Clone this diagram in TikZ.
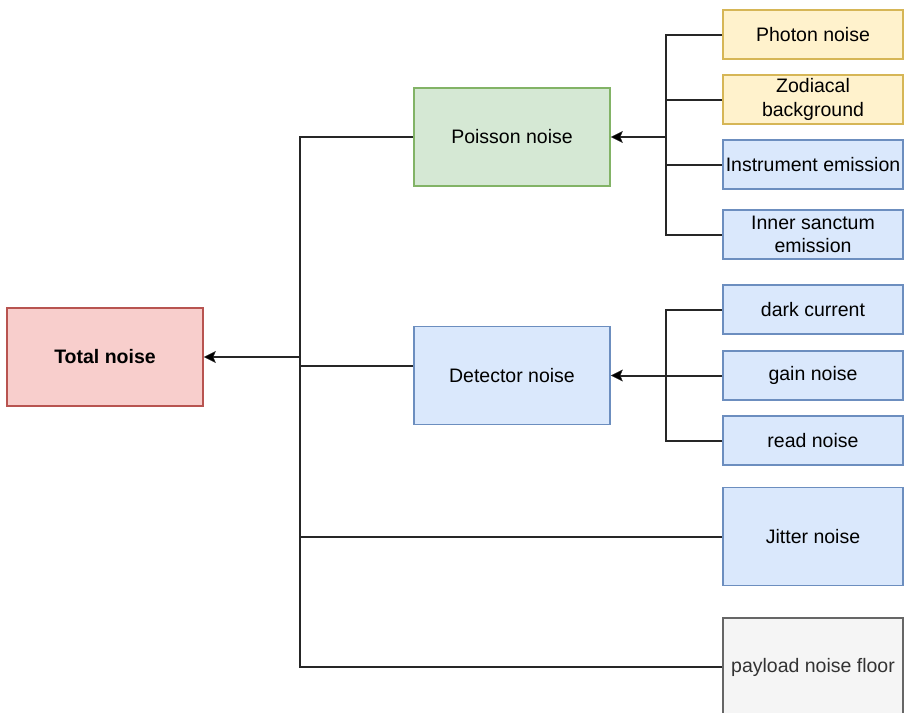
\documentclass[tikz,border=0pt]{standalone}
\usepackage{fontspec}
\setmainfont{Liberation Sans}
\usepackage{tikz}
\usetikzlibrary{arrows.meta,calc,positioning}
\definecolor{redfill}{HTML}{F8CECC}
\definecolor{redline}{HTML}{B85450}
\definecolor{greenfill}{HTML}{D5E8D4}
\definecolor{greenline}{HTML}{82B366}
\definecolor{bluefill}{HTML}{DAE8FC}
\definecolor{blueline}{HTML}{6C8EBF}
\definecolor{yellowfill}{HTML}{FFF2CC}
\definecolor{yellowline}{HTML}{D6B656}
\definecolor{greyfill}{HTML}{F5F5F5}
\definecolor{greyline}{HTML}{666666}
\definecolor{greytext}{HTML}{333333}
\tikzset{
  box/.style={draw, line width=1.6pt, inner sep=0pt, align=center,
    font=\fontsize{19.5}{23.4}\selectfont},
  bigbox/.style={box, minimum width=196pt, minimum height=98pt},
  leafbox/.style={box, minimum width=180pt, minimum height=49pt},
  link/.style={line width=2pt, black!85},
  tip/.style={-{Stealth[length=12pt,width=12pt,inset=2.5pt,line width=0.5pt,fill=black]}},
}
\begin{document}
\begin{tikzpicture}[x=1pt,y=-1pt]
\useasboundingbox (0,0) rectangle (904,712);
% main boxes
\node[bigbox, fill=redfill, draw=redline, font=\fontsize{19.5}{23.4}\selectfont\bfseries] (total) at (105,357) {Total noise};
\node[bigbox, fill=greenfill, draw=greenline] (poisson) at (512,137) {Poisson noise};
\node[bigbox, fill=bluefill, draw=blueline] (detector) at (512,375.5) {Detector noise};
% sources
\node[leafbox, fill=yellowfill, draw=yellowline] (photon) at (813,34.5) {Photon noise};
\node[leafbox, fill=yellowfill, draw=yellowline] (zodi) at (813,99.5) {Zodiacal\\background};
\node[leafbox, fill=bluefill, draw=blueline] (instrument) at (813,164.5) {Instrument emission};
\node[leafbox, fill=bluefill, draw=blueline] (sanctum) at (813,234.5) {Inner sanctum\\emission};
\node[leafbox, fill=bluefill, draw=blueline] (dark) at (813,309.5) {dark current};
\node[leafbox, fill=bluefill, draw=blueline] (gain) at (813,375.5) {gain noise};
\node[leafbox, fill=bluefill, draw=blueline] (read) at (813,440.5) {read noise};
\node[leafbox, fill=bluefill, draw=blueline, minimum height=98pt] (jitter) at (813,536.5) {Jitter noise};
\node[leafbox, fill=greyfill, draw=greyline, text=greytext, minimum height=98pt] (payload) at (813,667) {payload noise floor};
% buses
\coordinate (busT) at (300,357);
\coordinate (busP) at (666,137);
\coordinate (busD) at (666,375.5);
\draw[link,tip] (busT) -- (total.east);
\draw[link] (poisson.west) -| (busT);
\draw[link] ($(detector.west)+(0,-10)$) -| (busT);
\draw[link] (jitter.west) -| (busT);
\draw[link] (payload.west) -| (busT);
\draw[link,tip] (busP) -- (poisson.east);
\foreach \n in {photon,zodi,instrument,sanctum}
  \draw[link] (\n.west) -| (busP);
\draw[link,tip] (busD) -- (detector.east);
\foreach \n in {dark,gain,read}
  \draw[link] (\n.west) -| (busD);
\end{tikzpicture}
\end{document}
